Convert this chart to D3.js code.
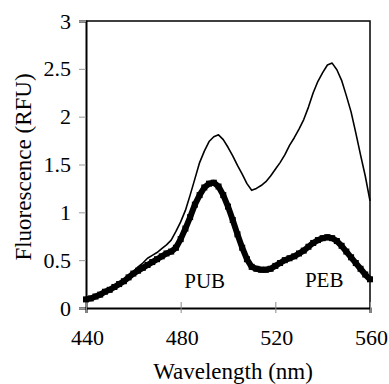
<!DOCTYPE html>
<html><head><meta charset="utf-8">
<script src="https://cdn.jsdelivr.net/npm/d3@7"></script>
<style>body{margin:0;background:#fff}svg{display:block}svg text{font-family:"Liberation Serif","DejaVu Serif",serif !important;fill:#000}</style>
</head><body>
<svg id="c" width="389" height="384"></svg>
<script>
const wavelength = [440,442,444,446,448,450,452,454,456,458,460,462,464,466,468,470,472,474,476,478,480,482,484,486,488,490,492,494,496,498,500,502,504,506,508,510,512,514,516,518,520,522,524,526,528,530,532,534,536,538,540,542,544,546,548,550,552,554,556,558,560];
const thinSeries = [0.09,0.10,0.12,0.14,0.17,0.20,0.22,0.25,0.29,0.33,0.38,0.43,0.47,0.52,0.55,0.58,0.62,0.66,0.71,0.80,0.90,1.02,1.18,1.35,1.52,1.64,1.74,1.79,1.81,1.76,1.68,1.59,1.49,1.40,1.30,1.23,1.25,1.28,1.32,1.38,1.45,1.52,1.60,1.70,1.78,1.87,1.97,2.10,2.25,2.37,2.46,2.54,2.56,2.49,2.38,2.22,2.05,1.83,1.60,1.38,1.12];
const thickSeries = [0.09,0.10,0.12,0.14,0.17,0.19,0.22,0.25,0.28,0.32,0.36,0.39,0.42,0.45,0.48,0.51,0.54,0.57,0.59,0.63,0.72,0.83,0.95,1.08,1.18,1.26,1.30,1.31,1.27,1.18,1.06,0.92,0.77,0.63,0.51,0.43,0.41,0.40,0.40,0.41,0.44,0.47,0.50,0.52,0.54,0.57,0.60,0.64,0.68,0.71,0.73,0.74,0.73,0.70,0.65,0.59,0.53,0.47,0.41,0.35,0.30];
const xTicks = [440,480,520,560];
const yTicks = [0,0.5,1,1.5,2,2.5,3];
const labels = [{text:"PUB", x:481.5, y:0.205},{text:"PEB", x:532.5, y:0.22}];

const svg = d3.select("#c");
const L=86, R=370, T=21, B=308;
const x = d3.scaleLinear().domain([440,560]).range([L,R]);
const y = d3.scaleLinear().domain([0,3]).range([B,T]);

svg.append("path").attr("d",`M${L},${T}H${R}V${B}`).attr("fill","none").attr("stroke","#000").attr("stroke-width",1.5);

const ya = svg.append("g").attr("transform",`translate(${L},0)`)
  .call(d3.axisLeft(y).tickValues(yTicks).tickSize(7).tickPadding(8).tickFormat(d3.format("")));
ya.select(".domain").attr("stroke","#000").attr("stroke-width",2);
ya.selectAll(".tick line").attr("stroke","#999").attr("stroke-width",1);
ya.selectAll(".tick text").attr("font-size",22);

const xa = svg.append("g").attr("transform",`translate(0,${B})`)
  .call(d3.axisBottom(x).tickValues(xTicks).tickSize(5).tickPadding(16));
xa.select(".domain").attr("stroke","#000").attr("stroke-width",2);
xa.selectAll(".tick line").attr("stroke","#888").attr("stroke-width",1).attr("y1",-6);
xa.selectAll(".tick text").attr("font-size",22).attr("dx",1);

const line = d3.line().x((d,i)=>x(wavelength[i])).y(d=>y(d)).curve(d3.curveLinear);

svg.append("path").datum(thinSeries).attr("d",line).attr("fill","none").attr("stroke","#000").attr("stroke-width",1.6).attr("stroke-linejoin","round");
svg.append("path").datum(thickSeries).attr("d",line).attr("fill","none").attr("stroke","#000").attr("stroke-width",6).attr("stroke-linejoin","round");
svg.append("g").selectAll("rect").data(thickSeries).join("rect")
  .attr("x",(d,i)=>x(wavelength[i])-3).attr("y",d=>y(d)-3).attr("width",6).attr("height",6).attr("fill","#000");

svg.append("g").selectAll("text").data(labels).join("text")
  .attr("x",d=>x(d.x)).attr("y",d=>y(d.y)).text(d=>d.text)
  .attr("font-size",21);

svg.append("text").attr("x",233).attr("y",379).attr("text-anchor","middle")
  .attr("font-size",23).text("Wavelength (nm)");
svg.append("text").attr("transform",`translate(31,167) rotate(-90)`).attr("text-anchor","middle")
  .attr("font-size",23).text("Fluorescence (RFU)");
</script>
</body></html>
